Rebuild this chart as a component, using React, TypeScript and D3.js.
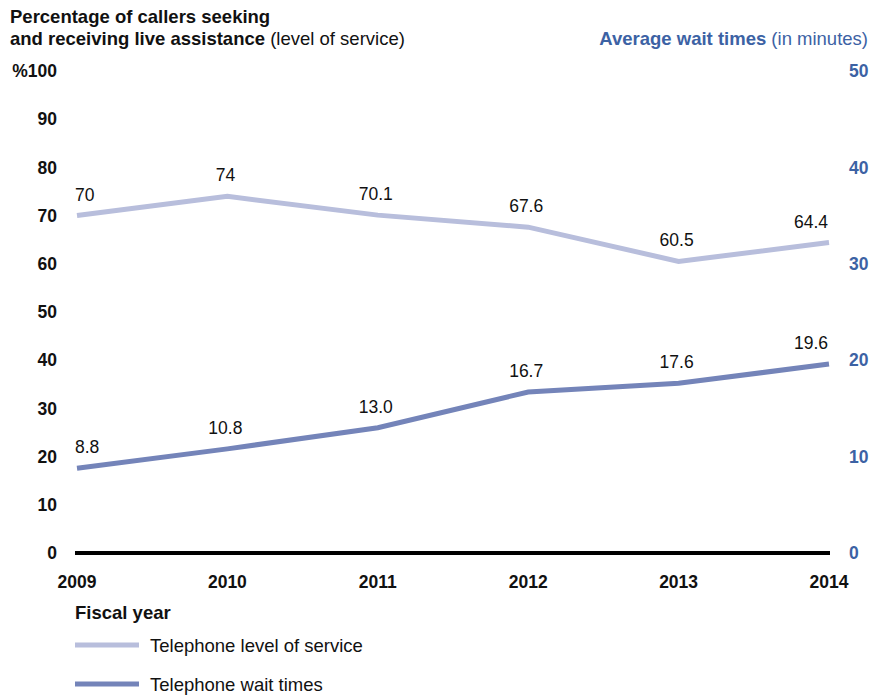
import React from "react";
import * as d3 from "d3";

const years = ["2009", "2010", "2011", "2012", "2013", "2014"];
const levelOfService = [70, 74, 70.1, 67.6, 60.5, 64.4];
const levelLabels = ["70", "74", "70.1", "67.6", "60.5", "64.4"];
const waitTimes = [8.8, 10.8, 13.0, 16.7, 17.6, 19.6];
const waitLabels = ["8.8", "10.8", "13.0", "16.7", "17.6", "19.6"];
const leftTicks = [0, 10, 20, 30, 40, 50, 60, 70, 80, 90, 100];
const rightTicks = [0, 10, 20, 30, 40, 50];

const W = 881;
const H = 696;
const LIGHT = "#b8bedc";
const DARK = "#7484b9";
const BLUE = "#3c62a4";
const FONT = "'Liberation Sans', Arial, sans-serif";

export default function App() {
  const x = d3.scalePoint<string>().domain(years).range([77, 829]);
  const yL = d3.scaleLinear().domain([0, 100]).range([553, 71]);
  const yR = d3.scaleLinear().domain([0, 50]).range([553, 71]);

  const lineL = d3
    .line<number>()
    .x((_, i) => x(years[i]) as number)
    .y((d) => yL(d));
  const lineR = d3
    .line<number>()
    .x((_, i) => x(years[i]) as number)
    .y((d) => yR(d));

  const anchor = (i: number) =>
    i === 0 ? "start" : i === years.length - 1 ? "end" : "middle";
  const lx = (i: number) =>
    (x(years[i]) as number) + (i === 0 ? -2 : i === years.length - 1 ? -1 : -2);

  return (
    <svg
      width={W}
      height={H}
      style={{ position: "absolute", left: 0, top: 0, fontFamily: FONT }}
    >
      <rect width={W} height={H} fill="#fff" />
      {/* titles */}
      <text x={10} y={23} fontSize={18.5} fontWeight="bold" fill="#111">
        Percentage of callers seeking
      </text>
      <text x={10} y={44.5} fontSize={18.5} fill="#111">
        <tspan fontWeight="bold">and receiving live assistance</tspan>
        <tspan> (level of service)</tspan>
      </text>
      <text x={868} y={44.5} fontSize={18.5} fill={BLUE} textAnchor="end">
        <tspan fontWeight="bold">Average wait times</tspan>
        <tspan> (in minutes)</tspan>
      </text>

      {/* left ticks */}
      {leftTicks.map((t) => (
        <text
          key={"l" + t}
          x={57}
          y={yL(t)}
          dy="0.35em"
          fontSize={17.5}
          fontWeight="bold"
          textAnchor="end"
          fill="#111"
        >
          {t === 100 ? "%100" : t}
        </text>
      ))}
      {/* right ticks */}
      {rightTicks.map((t) => (
        <text
          key={"r" + t}
          x={849}
          y={yR(t)}
          dy="0.35em"
          fontSize={17.5}
          fontWeight="bold"
          textAnchor="start"
          fill={BLUE}
        >
          {t}
        </text>
      ))}

      {/* baseline */}
      <line x1={75} x2={830} y1={yL(0)} y2={yL(0)} stroke="#000" strokeWidth={4} />

      {/* x labels */}
      {years.map((yr) => (
        <text
          key={yr}
          x={x(yr)}
          y={587.5}
          fontSize={17.5}
          fontWeight="bold"
          textAnchor="middle"
          fill="#111"
        >
          {yr}
        </text>
      ))}

      {/* lines */}
      <path d={lineL(levelOfService) || ""} fill="none" stroke={LIGHT} strokeWidth={5} />
      <path d={lineR(waitTimes) || ""} fill="none" stroke={DARK} strokeWidth={5} />

      {/* value labels */}
      {levelOfService.map((v, i) => (
        <text
          key={"lv" + i}
          x={lx(i)}
          y={yL(v) - 15}
          fontSize={17.5}
          textAnchor={anchor(i)}
          fill="#111"
        >
          {levelLabels[i]}
        </text>
      ))}
      {waitTimes.map((v, i) => (
        <text
          key={"wv" + i}
          x={lx(i)}
          y={yR(v) - 15}
          fontSize={17.5}
          textAnchor={anchor(i)}
          fill="#111"
        >
          {waitLabels[i]}
        </text>
      ))}

      {/* legend */}
      <text x={75} y={618.5} fontSize={18.5} fontWeight="bold" fill="#111">
        Fiscal year
      </text>
      <line x1={75} x2={139} y1={645} y2={645} stroke={LIGHT} strokeWidth={5} />
      <text x={150} y={651.5} fontSize={18.5} fill="#111">
        Telephone level of service
      </text>
      <line x1={75} x2={139} y1={684} y2={684} stroke={DARK} strokeWidth={5} />
      <text x={150} y={690.5} fontSize={18.5} fill="#111">
        Telephone wait times
      </text>
    </svg>
  );
}
